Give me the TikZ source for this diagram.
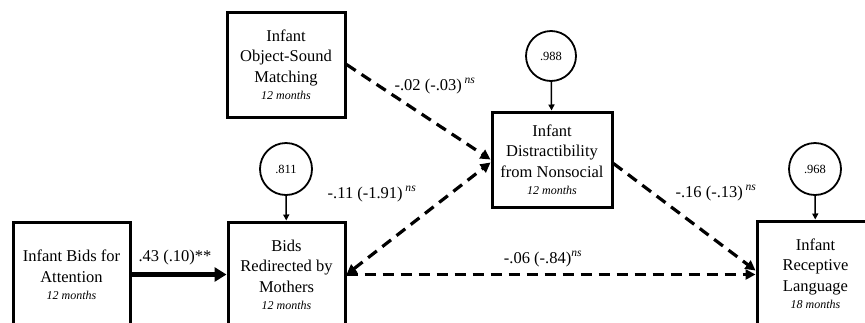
\documentclass[tikz,border=0pt]{standalone}
\usepackage{fontspec}
\setmainfont{Liberation Serif}
\usetikzlibrary{arrows.meta}
\newcommand\mon[1]{{\fontsize{12}{13}\selectfont\itshape #1}}
\newcommand\nsup{\textsuperscript{\itshape ns}}
\tikzset{
  box/.style={draw, line width=3pt, minimum width=117pt, minimum height=105pt, align=center, font=\fontsize{16.5}{20.5}\selectfont, inner sep=0pt},
  errc/.style={draw, circle, line width=1.8pt, minimum size=52pt, inner sep=0pt, font=\fontsize{12.5}{14}\selectfont},
  dashar/.style={line width=3.2pt, dash pattern=on 11pt off 7pt, -{Triangle[length=10pt,width=10pt]}},
  dashbi/.style={line width=3.2pt, dash pattern=on 11pt off 7pt, {Triangle[length=10pt,width=10pt]}-{Triangle[length=10pt,width=10pt]}},
  solar/.style={line width=4.5pt, -{Triangle[length=12pt,width=14pt]}},
  resar/.style={line width=1.5pt, -{Triangle[length=6pt,width=6pt]}},
  lab/.style={font=\fontsize{16.5}{18}\selectfont, inner sep=0pt}
}
\begin{document}
\begin{tikzpicture}[x=1pt,y=-1pt]
\useasboundingbox (0,0) rectangle (865,322);
\node[box] (A) at (71.5,274.5) {Infant Bids for\\Attention\\[-3.5pt]\mon{12 months}};
\node[box] (B) at (286.5,274.5) {Bids\\Redirected by\\Mothers\\[-3.5pt]\mon{12 months}};
\node[box, minimum width=118pt] (C) at (286,64.5) {Infant\\Object-Sound\\Matching\\[-3.5pt]\mon{12 months}};
\node[box, minimum width=120pt, minimum height=95pt] (D) at (552,159.5) {Infant\\Distractibility\\from Nonsocial\\[-3.5pt]\mon{12 months}};
\node[box] (E) at (815.5,273.5) {Infant\\Receptive\\Language\\[-3.5pt]\mon{18 months}};
\node[errc] (e1) at (286,169) {.811};
\node[errc, minimum size=50pt] (e2) at (551,56) {.988};
\node[errc] (e3) at (815,169) {.968};
\draw[resar] (e1) -- (B);
\draw[resar] (e2) -- (D);
\draw[resar] (e3) -- (E);
\draw[solar] (A.east) -- (B.west);
\draw[dashar] (C.east) -- (D.west);
\draw[dashbi] (B.east) -- ([yshift=-3pt]D.west);
\draw[dashar] (B.east) -- (E.west |- B.east);
\draw[dashar] ([yshift=-4pt]D.east) -- ([yshift=3pt]E.west);
\node[lab] (l1) at (175,258) {.43 (.10)**};
\node[lab] (l2) at (435,86) {-.02 (-.03)\,\nsup};
\node[lab] (l3) at (372,194) {-.11 (-1.91)\,\nsup};
\node[lab] (l4) at (543,259) {-.06 (-.84)\nsup};
\node[lab] (l5) at (716,193) {-.16 (-.13)\,\nsup};
\end{tikzpicture}
\end{document}
